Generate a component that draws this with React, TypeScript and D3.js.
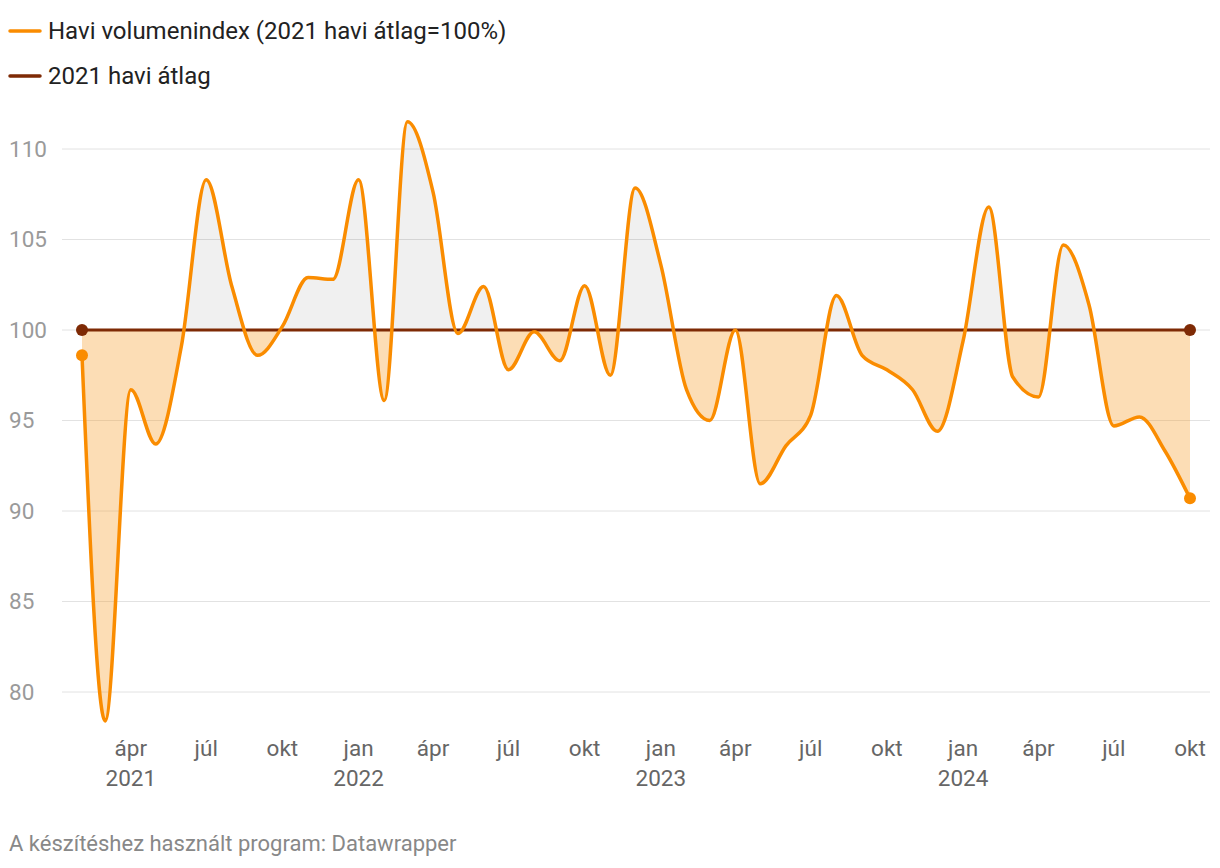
import React from "react";
import * as d3 from "d3";

const startYear = 2021;
const startMonth = 1; // February (0-based)
const values = [
  98.6, 78.4, 96.7, 93.7, 99.1, 108.3, 102.4, 98.6, 100.2, 102.9, 102.8,
  108.3, 96.1, 111.5, 107.6, 99.8, 102.4, 97.8, 99.9, 98.3, 102.45, 97.5, 107.85,
  103.6, 96.7, 95.0, 100.0, 91.5, 93.6, 95.3, 101.9, 98.6, 97.8, 96.7, 94.4,
  99.4, 106.8, 97.4, 96.3, 104.7, 101.4, 94.7, 95.2, 93.3, 90.7,
];
const averageValue = 100;
const yTicks = [80, 85, 90, 95, 100, 105, 110];
const monthNames = ["jan", "febr", "márc", "ápr", "máj", "jún", "júl", "aug", "szept", "okt", "nov", "dec"];
const legendItems = ["Havi volumenindex (2021 havi átlag=100%)", "2021 havi átlag"];
const footerText = "A készítéshez használt program: Datawrapper";

const ORANGE = "#fa8c00";
const BROWN = "#7e2a05";
const FONT = "Roboto, 'Noto Sans', sans-serif";

type Pt = { date: Date; value: number };
const data: Pt[] = values.map((v, i) => ({ date: new Date(Date.UTC(startYear, startMonth + i, 1)), value: v }));

export default function App() {
  const W = 1220;
  const H = 868;
  const x = d3
    .scaleUtc()
    .domain([data[0].date, data[data.length - 1].date])
    .range([82, 1190]);
  const y = d3.scaleLinear().domain([80, 110]).range([692, 149]);

  const line = d3
    .line<Pt>()
    .x((d) => x(d.date))
    .y((d) => y(d.value))
    .curve(d3.curveMonotoneX);
  const area = d3
    .area<Pt>()
    .x((d) => x(d.date))
    .y0(() => y(averageValue))
    .y1((d) => y(d.value))
    .curve(d3.curveMonotoneX);

  const ticks = d3.utcMonth
    .every(3)!
    .range(new Date(Date.UTC(2021, 3, 1)), new Date(Date.UTC(2024, 10, 1)));

  const y100 = y(averageValue);
  const first = data[0];
  const last = data[data.length - 1];

  return (
    <svg
      width={W}
      height={H}
      style={{ position: "absolute", left: 0, top: 0, background: "#fff" }}
      fontFamily={FONT}
    >
      <defs>
        <clipPath id="above">
          <rect x={0} y={0} width={W} height={y100} />
        </clipPath>
        <clipPath id="below">
          <rect x={0} y={y100} width={W} height={H - y100} />
        </clipPath>
      </defs>

      {/* legend */}
      {legendItems.map((t, i) => (
        <g key={t} transform={`translate(0, ${31 + i * 45})`}>
          <line x1={10} x2={40} y1={0} y2={0} stroke={i === 0 ? ORANGE : BROWN} strokeWidth={3.5} strokeLinecap="round" />
          <text x={48} y={0} dy="0.35em" fontSize={24} fill="#222">
            {t}
          </text>
        </g>
      ))}

      {/* gridlines + y labels */}
      {yTicks.map((t) => (
        <g key={t}>
          <line x1={62} x2={1210} y1={y(t)} y2={y(t)} stroke="#e2e2e2" strokeWidth={1} />
          <text x={9} y={y(t)} dy="0.35em" fontSize={22.5} fill="#9a9a9a">
            {t}
          </text>
        </g>
      ))}

      {/* areas */}
      <path d={area(data) || ""} fill="#000" fillOpacity={0.06} clipPath="url(#above)" />
      <path d={area(data) || ""} fill="#f7a031" fillOpacity={0.36} clipPath="url(#below)" />

      {/* average line */}
      <line x1={x(first.date)} x2={x(last.date)} y1={y100} y2={y100} stroke={BROWN} strokeWidth={3} />
      <circle cx={x(first.date)} cy={y100} r={6} fill={BROWN} />
      <circle cx={x(last.date)} cy={y100} r={6} fill={BROWN} />

      {/* main line */}
      <path d={line(data) || ""} fill="none" stroke={ORANGE} strokeWidth={3.5} strokeLinejoin="round" />
      <circle cx={x(first.date)} cy={y(first.value)} r={6} fill={ORANGE} />
      <circle cx={x(last.date)} cy={y(last.value)} r={6} fill={ORANGE} />

      {/* x axis labels */}
      {ticks.map((d) => {
        const m = d.getUTCMonth();
        const showYear = m === 0 || (d.getUTCFullYear() === 2021 && m === 3);
        return (
          <g key={d.toISOString()} transform={`translate(${x(d)}, 0)`}>
            <text y={756} textAnchor="middle" fontSize={22.5} fill="#666">
              {monthNames[m]}
            </text>
            {showYear && (
              <text y={786} textAnchor="middle" fontSize={22.5} fill="#666">
                {d.getUTCFullYear()}
              </text>
            )}
          </g>
        );
      })}

      {/* footer */}
      <text x={9} y={851} fontSize={22} fill="#888">
        {footerText}
      </text>
    </svg>
  );
}
